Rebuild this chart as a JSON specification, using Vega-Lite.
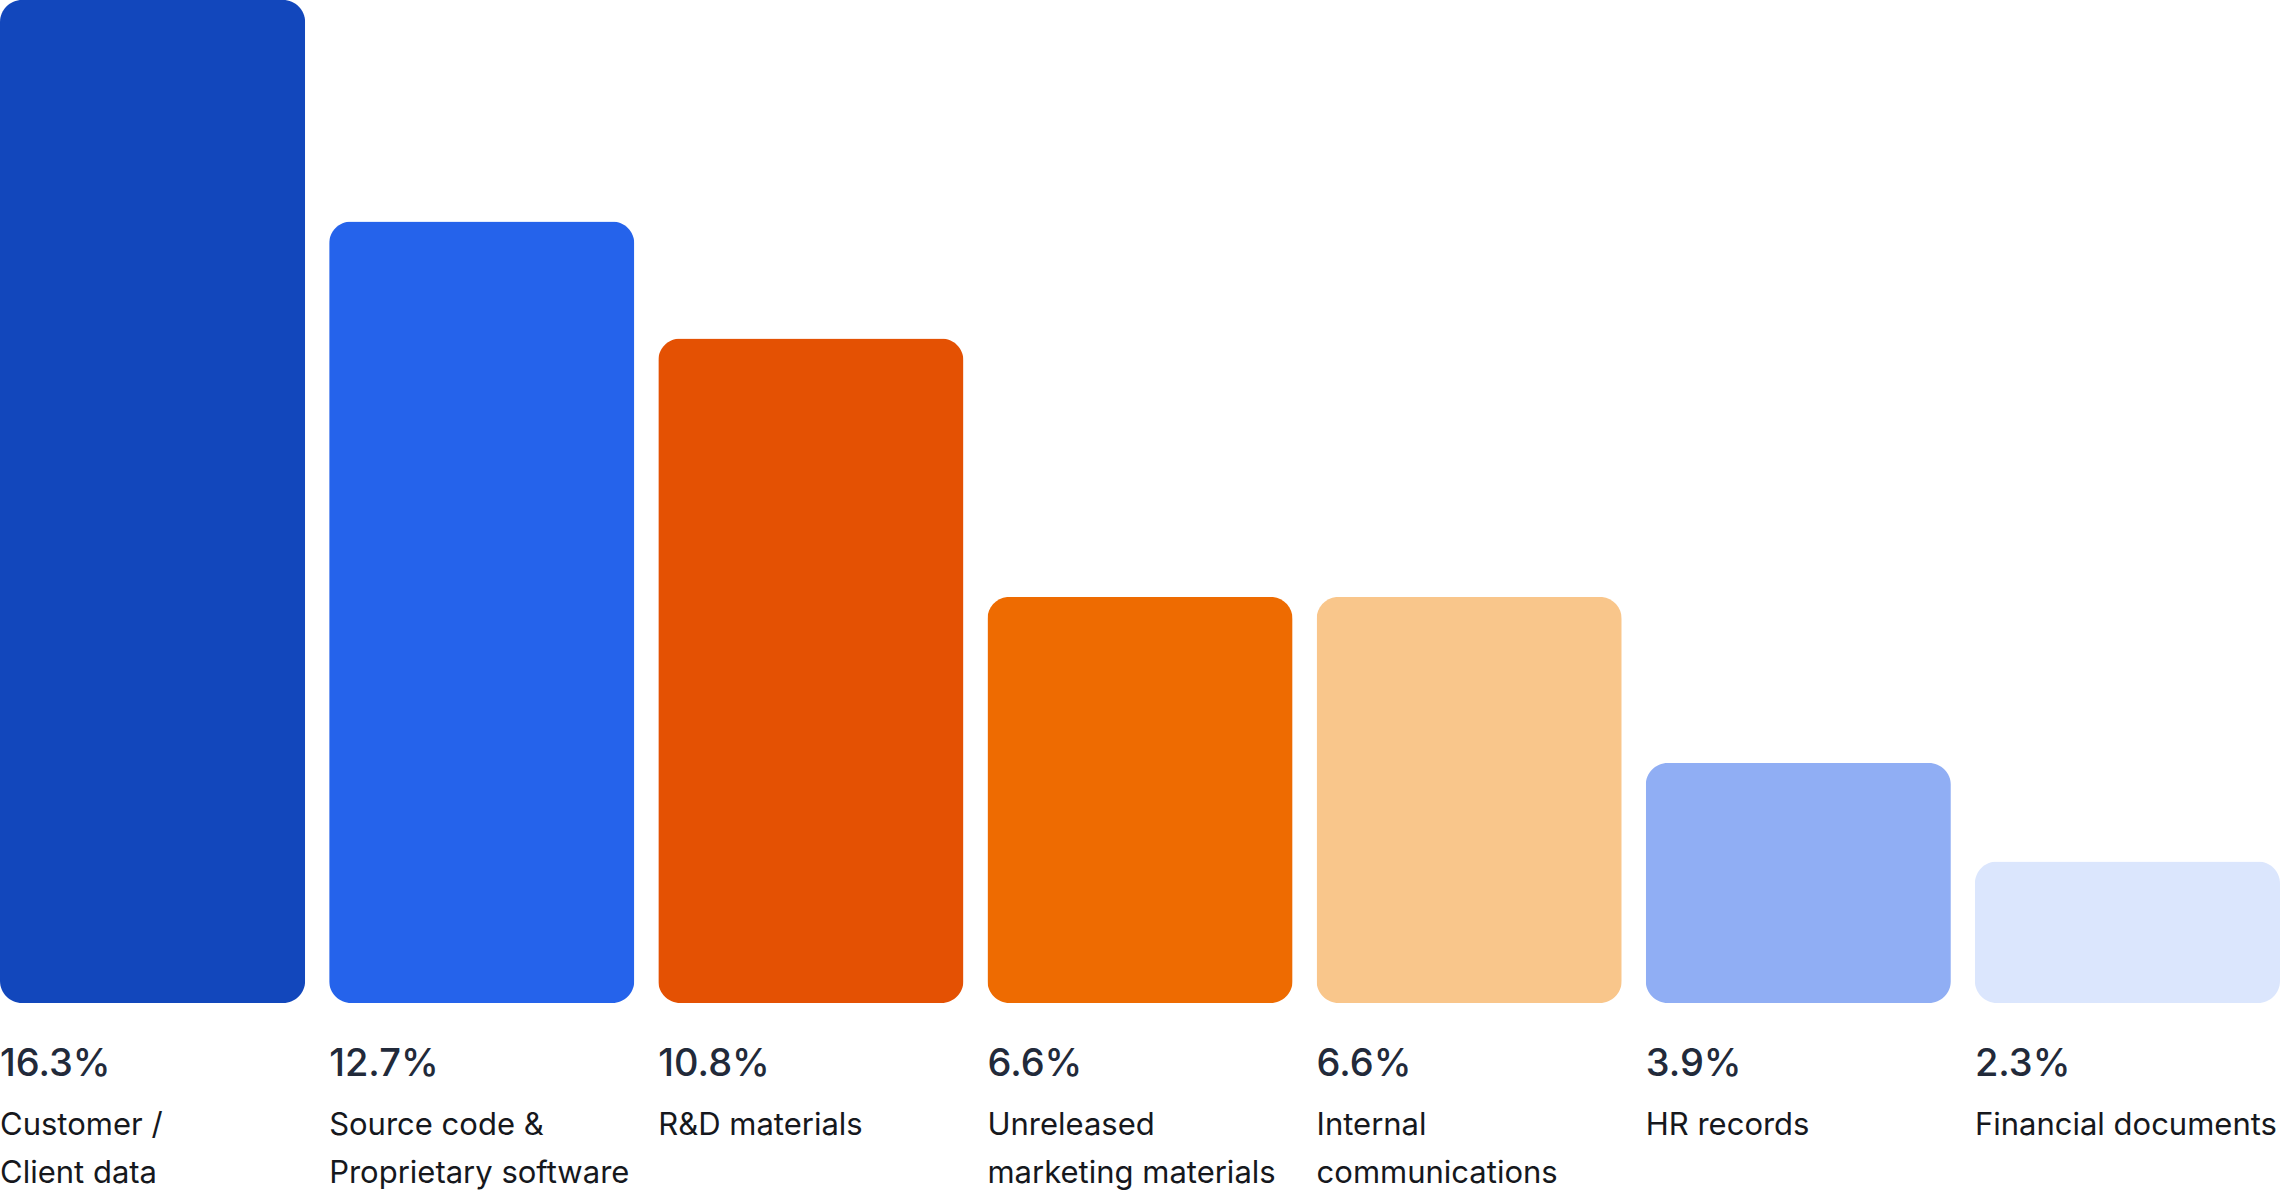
{
  "$schema": "https://vega.github.io/schema/vega-lite/v6.json",
  "autosize": {"type": "none"},
  "width": 2280,
  "height": 1003,
  "padding": {"left": 0, "top": 0, "right": 0, "bottom": 197},
  "background": "white",
  "config": {"view": {"stroke": null}},
  "data": {
    "values": [
      {"category": "Customer / Client data", "label": "Customer /\nClient data", "share": 0.163, "color": "#1247BC"},
      {"category": "Source code & Proprietary software", "label": "Source code &\nProprietary software", "share": 0.127, "color": "#2563EB"},
      {"category": "R&D materials", "label": "R&D materials", "share": 0.108, "color": "#E45103"},
      {"category": "Unreleased marketing materials", "label": "Unreleased\nmarketing materials", "share": 0.066, "color": "#EE6B01"},
      {"category": "Internal communications", "label": "Internal\ncommunications", "share": 0.066, "color": "#F9C68B"},
      {"category": "HR records", "label": "HR records", "share": 0.039, "color": "#90AEF4"},
      {"category": "Financial documents", "label": "Financial documents", "share": 0.023, "color": "#DBE6FD"}
    ]
  },
  "encoding": {
    "x": {
      "field": "category",
      "type": "nominal",
      "sort": null,
      "axis": null,
      "scale": {"paddingInner": 0.073, "paddingOuter": 0}
    }
  },
  "layer": [
    {
      "mark": {"type": "bar", "cornerRadius": 22},
      "encoding": {
        "y": {"field": "share", "type": "quantitative", "axis": null, "scale": {"domain": [0, 0.163], "nice": false}},
        "color": {"field": "color", "type": "nominal", "scale": null, "legend": null}
      }
    },
    {
      "mark": {"type": "text", "align": "left", "baseline": "alphabetic", "dy": 73, "font": "Inter", "fontSize": 38, "fontWeight": 500, "color": "#222A3A"},
      "encoding": {
        "x": {"field": "category", "type": "nominal", "sort": null, "bandPosition": 0},
        "y": {"datum": 0, "type": "quantitative"},
        "text": {"field": "share", "type": "quantitative", "format": ".1%"}
      }
    },
    {
      "mark": {"type": "text", "align": "left", "baseline": "alphabetic", "dy": 132, "font": "Inter", "fontSize": 31, "fontWeight": 400, "lineBreak": "\n", "lineHeight": 48, "color": "#16181D"},
      "encoding": {
        "x": {"field": "category", "type": "nominal", "sort": null, "bandPosition": 0},
        "y": {"datum": 0, "type": "quantitative"},
        "text": {"field": "label", "type": "nominal"}
      }
    }
  ]
}
